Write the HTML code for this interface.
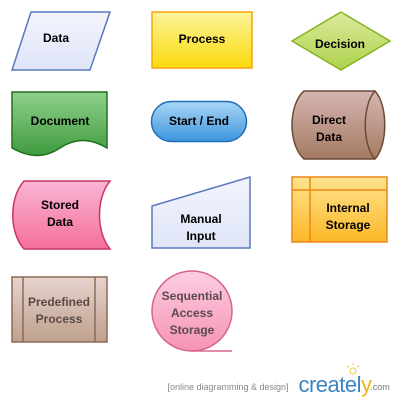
<!DOCTYPE html>
<html><head><meta charset="utf-8"><style>
html,body{margin:0;padding:0;background:#fff;width:401px;height:402px;overflow:hidden}
text{font-family:"Liberation Sans",Arial,sans-serif;font-weight:bold;font-size:12px;text-anchor:middle}
</style></head><body>
<svg width="401" height="402" viewBox="0 0 401 402" xmlns="http://www.w3.org/2000/svg">
<defs>
<linearGradient id="gData" x1="0" y1="0" x2="0" y2="1"><stop offset="0" stop-color="#f3f4fd"/><stop offset="1" stop-color="#dfe5f8"/></linearGradient>
<linearGradient id="gProc" x1="0" y1="0" x2="0" y2="1"><stop offset="0" stop-color="#fbf49a"/><stop offset="1" stop-color="#fddb0c"/></linearGradient>
<linearGradient id="gDec" x1="0" y1="0" x2="0" y2="1"><stop offset="0" stop-color="#dbea9c"/><stop offset="1" stop-color="#aed24c"/></linearGradient>
<linearGradient id="gDoc" x1="0" y1="0" x2="0" y2="1"><stop offset="0" stop-color="#8fd08c"/><stop offset="1" stop-color="#3f9b3e"/></linearGradient>
<linearGradient id="gSE" x1="0" y1="0" x2="0" y2="1"><stop offset="0" stop-color="#a9d6f7"/><stop offset="1" stop-color="#3d95dc"/></linearGradient>
<linearGradient id="gDD" x1="0" y1="0" x2="0" y2="1"><stop offset="0" stop-color="#d6b5b2"/><stop offset="1" stop-color="#a47a61"/></linearGradient>
<linearGradient id="gSD" x1="0" y1="0" x2="0" y2="1"><stop offset="0" stop-color="#f9b5d6"/><stop offset="1" stop-color="#f56f99"/></linearGradient>
<linearGradient id="gIS" x1="0" y1="0" x2="0" y2="1"><stop offset="0" stop-color="#fde48e"/><stop offset="1" stop-color="#fdb828"/></linearGradient>
<linearGradient id="gPP" x1="0" y1="0" x2="0" y2="1"><stop offset="0" stop-color="#e6d3cf"/><stop offset="1" stop-color="#bea08c"/></linearGradient>
<linearGradient id="gSQ" x1="0" y1="0" x2="0" y2="1"><stop offset="0" stop-color="#fccde2"/><stop offset="1" stop-color="#f693b4"/></linearGradient>
</defs>
<polygon points="31,12 110,12 90,70 12,70" fill="url(#gData)" stroke="#5a78bd" stroke-width="1.5"/>
<text x="56" y="42">Data</text>
<rect x="152" y="12" width="100" height="56" fill="url(#gProc)" stroke="#f8a20c" stroke-width="1.5"/>
<text x="202" y="43">Process</text>
<polygon points="341,12 390,41 341,70 292,41" fill="url(#gDec)" stroke="#86b41f" stroke-width="1.5"/>
<text x="340" y="48">Decision</text>
<path d="M12,92 H107 V148 C90,138 75,138 60,148 C45,158 30,158 12,148 Z" fill="url(#gDoc)" stroke="#21701e" stroke-width="1.5"/>
<text x="60" y="125">Document</text>
<rect x="151.5" y="101.5" width="95" height="40" rx="20" fill="url(#gSE)" stroke="#1f6fb8" stroke-width="1.5"/>
<text x="199" y="125">Start / End</text>
<path d="M304,91 H375 C388,105 388,145 375,159 H304 C288,145 288,105 304,91 Z" fill="url(#gDD)" stroke="#6c4a35" stroke-width="1.5"/>
<path d="M375,91 C362,105 362,145 375,159" fill="none" stroke="#6c4a35" stroke-width="1.5"/>
<text x="329" y="124">Direct</text><text x="329" y="141">Data</text>
<path d="M24,181 H110 C96,198 96,232 110,249 H24 C9,232 9,198 24,181 Z" fill="url(#gSD)" stroke="#c83663" stroke-width="1.5"/>
<text x="60" y="209">Stored</text><text x="60" y="226">Data</text>
<polygon points="152,206 250,177 250,248 152,248" fill="url(#gData)" stroke="#5a78bd" stroke-width="1.5"/>
<text x="201" y="223">Manual</text><text x="201" y="240">Input</text>
<rect x="292" y="177" width="95" height="65" fill="url(#gIS)" stroke="#ee8516" stroke-width="1.5"/>
<line x1="310" y1="177" x2="310" y2="242" stroke="#ee8516" stroke-width="1.5"/>
<line x1="292" y1="190" x2="387" y2="190" stroke="#ee8516" stroke-width="1.5"/>
<text x="348" y="212">Internal</text><text x="348" y="229">Storage</text>
<rect x="12" y="277" width="95" height="65" fill="url(#gPP)" stroke="#8c6b55" stroke-width="1.5"/>
<line x1="23" y1="277" x2="23" y2="342" stroke="#8c6b55" stroke-width="1.5"/>
<line x1="95" y1="277" x2="95" y2="342" stroke="#8c6b55" stroke-width="1.5"/>
<text x="59" y="306" fill="#5a4a44">Predefined</text><text x="59" y="323" fill="#5a4a44">Process</text>
<circle cx="192" cy="311" r="40" fill="url(#gSQ)" stroke="#d5658c" stroke-width="1.5"/>
<line x1="192" y1="351" x2="232" y2="351" stroke="#d5658c" stroke-width="1.5"/>
<text x="192" y="300" fill="#5a4a50">Sequential</text><text x="192" y="317" fill="#5a4a50">Access</text><text x="192" y="334" fill="#5a4a50">Storage</text>
<text x="228" y="390" style="font-weight:normal;font-size:9px;fill:#888">[online diagramming &amp; design]</text>
<text x="335" y="392" style="font-size:22px;font-weight:normal;fill:#3b84c4;letter-spacing:-0.5px">createl<tspan fill="#f0b41c">y</tspan></text>
<text x="380" y="390" style="font-weight:normal;font-size:9px;fill:#777">.com</text>
<circle cx="353" cy="371" r="3" fill="none" stroke="#f5c842" stroke-width="1"/>
<g stroke="#f5c842" stroke-width="1"><line x1="353" y1="363" x2="353" y2="365"/><line x1="347" y1="366" x2="349" y2="367"/><line x1="359" y1="366" x2="357" y2="367"/></g>
</svg>
</body></html>
